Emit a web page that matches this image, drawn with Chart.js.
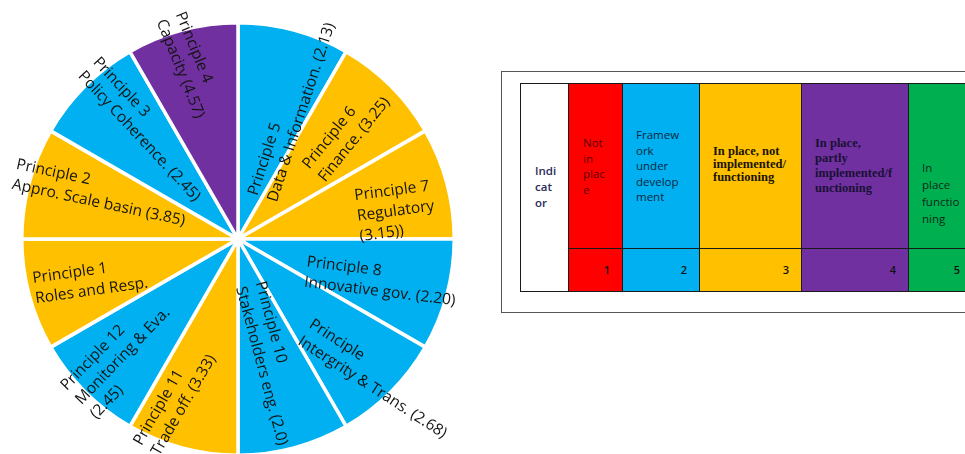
<!DOCTYPE html>
<html>
<head>
<meta charset="utf-8">
<script src="https://cdn.jsdelivr.net/npm/chart.js@4/dist/chart.umd.min.js"></script>
<style>
html,body{margin:0;padding:0;background:#fff;width:965px;height:454px;overflow:hidden;position:relative;}
#pieWrap{position:absolute;left:0;top:0;width:476px;height:480px;}
#box{position:absolute;left:501px;top:71px;width:520px;height:242px;border:1.5px solid #555;box-sizing:border-box;}
.col{position:absolute;top:83px;height:209px;box-sizing:border-box;border-top:1.5px solid #1a1a1a;border-bottom:1.5px solid #1a1a1a;border-left:1.5px solid #1a1a1a;}
.hdr{position:absolute;white-space:nowrap;}
.sep{position:absolute;left:0;right:0;top:164px;border-top:1.5px solid #1a1a1a;}
.num{position:absolute;top:178px;font-family:"Open Sans",sans-serif;font-size:11px;font-weight:600;color:#111;text-align:right;}
</style>
</head>
<body>
<div id="pieWrap"><canvas id="pie"></canvas></div>
<div id="box"></div>
<div id="legendTable"></div>
<script>
// ---- Data (clockwise from 12 o'clock) ----
const sliceLabels = [
  ['Principle 5', 'Data & Information. (2.13)'],
  ['Principle 6', 'Finance. (3.25)'],
  ['Principle 7', 'Regulatory', '(3.15))'],
  ['Principle 8', 'Innovative gov. (2.20)'],
  ['Principle', 'Intergrity & Trans. (2.68)'],
  ['Principle 10', 'Stakeholders eng. (2.0)'],
  ['Principle 11', 'Trade off. (3.33)'],
  ['Principle 12', 'Monitoring & Eva.', '(2.45)'],
  ['Principle 1', 'Roles and Resp.'],
  ['Principle 2', 'Appro. Scale basin (3.85)'],
  ['Principle 3', 'Policy Coherence. (2.45)'],
  ['Principle 4', 'Capacity (4.57)']
];
const scores = [2.13, 3.25, 3.15, 2.20, 2.68, 2.0, 3.33, 2.45, null, 3.85, 2.45, 4.57];
const sliceLevels = [2, 3, 3, 2, 2, 2, 3, 2, 3, 3, 2, 4];
const sliceWeights = [1, 1, 1, 1, 1, 1, 1, 1, 1, 1, 1, 1];

// Legend scale
const legendLevels = [1, 2, 3, 4, 5];
const legendTexts = [
  ['Not', 'in', 'plac', 'e'],
  ['Framew', 'ork', 'under', 'develop', 'ment'],
  ['In place, not', 'implemented/', 'functioning'],
  ['In place,', 'partly', 'implemented/f', 'unctioning'],
  ['In', 'place', 'functio', 'ning']
];
const indicatorText = ['Indi', 'cat', 'or'];

// ---- Styles ----
const levelColors = {1: '#FF0000', 2: '#00B0F0', 3: '#FFC000', 4: '#7030A0', 5: '#00B050'};
const colEdges = [520, 568, 622, 699, 801, 908, 972];
const hdrStyles = [
  {left: 14, top: 79, lh: 16, size: 11.5, color: '#2b2b55', font: '"Open Sans", sans-serif', weight: '600'},
  {left: 14, top: 51, lh: 15.5, size: 11.5, color: '#5a0000', font: '"Open Sans", sans-serif', weight: 'normal'},
  {left: 13, top: 43, lh: 15.5, size: 11.5, color: '#0b2640', font: '"Open Sans", sans-serif', weight: 'normal'},
  {left: 13, top: 61, lh: 13, size: 12.5, color: '#1a1400', font: '"Liberation Serif", serif', weight: 'bold'},
  {left: 13, top: 52, lh: 15, size: 12.5, color: '#1a1035', font: '"Liberation Serif", serif', weight: 'bold'},
  {left: 13, top: 75, lh: 17, size: 11.5, color: '#0a2a18', font: '"Open Sans", sans-serif', weight: 'normal'}
];
const labelLayout = [
  {dAng: 7.5, rf: 0.65, rot: -72},
  {dAng: 0.7, rf: 0.70, rot: -51},
  {dAng: 5, rf: 0.74, rot: -7.5},
  {dAng: 1.5, rf: 0.69, rot: 7},
  {dAng: 0, rf: 0.915, rot: 33},
  {dAng: 0, rf: 0.595, rot: 75},
  {dAng: 6.4, rf: 0.80, rot: -60},
  {dAng: -0.5, rf: 0.76, rot: -46},
  {dAng: -0.8, rf: 0.71, rot: -8},
  {dAng: 3.6, rf: 0.67, rot: 12},
  {dAng: 5.2, rf: 0.66, rot: 47},
  {dAng: -0.5, rf: 0.835, rot: 68}
];

// ---- Legend table (HTML) ----
(function buildTable(){
  const host = document.getElementById('legendTable');
  const cols = [{bg: '#fff', lines: indicatorText, num: null}].concat(
    legendLevels.map((lv, i) => ({bg: levelColors[lv], lines: legendTexts[i], num: lv}))
  );
  cols.forEach((c, i) => {
    const d = document.createElement('div');
    d.className = 'col';
    d.style.left = colEdges[i] + 'px';
    d.style.width = (colEdges[i + 1] - colEdges[i]) + 'px';
    d.style.background = c.bg;
    const st = hdrStyles[i];
    const h = document.createElement('div');
    h.className = 'hdr';
    h.style.left = st.left + 'px';
    h.style.top = st.top + 'px';
    h.style.lineHeight = st.lh + 'px';
    h.style.fontSize = st.size + 'px';
    h.style.color = st.color;
    h.style.fontFamily = st.font;
    h.style.fontWeight = st.weight;
    h.innerHTML = c.lines.join('<br>');
    d.appendChild(h);
    if (c.num !== null) {
      const s = document.createElement('div');
      s.className = 'sep';
      d.appendChild(s);
      const n = document.createElement('div');
      n.className = 'num';
      n.style.right = '12px';
      n.textContent = c.num;
      d.appendChild(n);
    }
    host.appendChild(d);
  });
})();

// ---- Pie chart ----
const labelPlugin = {
  id: 'sliceLabels',
  afterDatasetsDraw(chart) {
    const ctx = chart.ctx;
    const meta = chart.getDatasetMeta(0);
    ctx.save();
    ctx.font = '15.5px "Open Sans", sans-serif';
    ctx.fillStyle = '#141414';
    ctx.textBaseline = 'middle';
    ctx.textAlign = 'left';
    meta.data.forEach((arc, i) => {
      const p = arc.getProps(['x', 'y', 'startAngle', 'endAngle', 'outerRadius'], true);
      const L = labelLayout[i];
      const a = (p.startAngle + p.endAngle) / 2 + L.dAng * Math.PI / 180;
      const r = p.outerRadius * L.rf;
      const cx = p.x + r * Math.cos(a), cy = p.y + r * Math.sin(a);
      const lines = sliceLabels[i];
      const w = Math.max(...lines.map(s => ctx.measureText(s).width));
      const lh = 20.5;
      ctx.save();
      ctx.translate(cx, cy);
      ctx.rotate(L.rot * Math.PI / 180);
      lines.forEach((s, j) => ctx.fillText(s, -w / 2, (j - (lines.length - 1) / 2) * lh));
      ctx.restore();
    });
    ctx.restore();
  }
};

new Chart(document.getElementById('pie'), {
  type: 'pie',
  data: {
    labels: sliceLabels.map(l => l.join(' ')),
    datasets: [{
      data: sliceWeights,
      scores: scores,
      backgroundColor: sliceLevels.map(l => levelColors[l]),
      borderColor: '#ffffff',
      borderWidth: 3.5
    }]
  },
  options: {
    responsive: true,
    maintainAspectRatio: false,
    animation: false,
    layout: {padding: {left: 20, right: 20, top: 21, bottom: 23}},
    plugins: {legend: {display: false}, tooltip: {enabled: false}}
  },
  plugins: [labelPlugin]
});
</script>
</body>
</html>
